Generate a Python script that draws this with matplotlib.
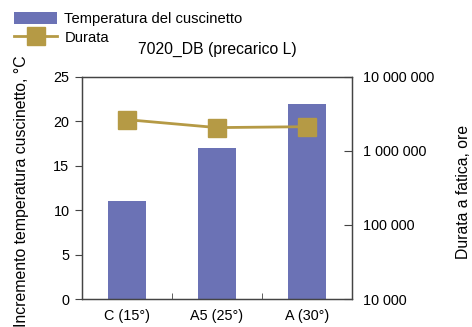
import matplotlib.pyplot as plt
import matplotlib.ticker as mticker
import numpy as np

plt.rcParams['font.family'] = ['Liberation Sans', 'DejaVu Sans']
plt.rcParams['font.size'] = 10.4

### DATA ###

categories = ["C (15°)", "A5 (25°)", "A (30°)"]
temperature = [11, 17, 22]
durata = [2.65e6, 2.07e6, 2.13e6]
right_ticks = [1e4, 1e5, 1e6, 1e7]

BAR_COLOR = "#6b72b5"
LINE_COLOR = "#b59a45"
SPINE_COLOR = "#444444"

### PLOT ###

fig = plt.figure(figsize=(4.72, 3.27), dpi=100)
ax = fig.add_axes([0.1737, 0.0856, 0.572, 0.679])
ax2 = ax.twinx()

x = np.arange(len(categories))
bars = ax.bar(x, temperature, width=0.43, color=BAR_COLOR, zorder=2,
              label="Temperatura del cuscinetto")
line, = ax2.plot(x, durata, color=LINE_COLOR, lw=2, marker="s", markersize=13.5,
                 label="Durata", zorder=3)

ax.set_xlim(-0.5, 2.5)
ax.set_ylim(0, 25)
ax.set_yticks([0, 5, 10, 15, 20, 25])
ax.set_xticks(x, categories)
ax.set_xticks([0.5, 1.5], minor=True)
ax.tick_params(axis="x", which="major", length=0, pad=7)
ax.tick_params(axis="x", which="minor", direction="in", length=4, color=SPINE_COLOR)
ax.tick_params(axis="y", direction="out", length=5, color=SPINE_COLOR, pad=4)

ax2.set_yscale("log")
ax2.set_ylim(1e4, 1e7)
ax2.set_yticks(right_ticks)
ax2.yaxis.set_major_formatter(mticker.FuncFormatter(lambda v, p: f"{int(round(v)):,}".replace(",", " ")))
ax2.yaxis.set_minor_locator(mticker.NullLocator())
ax2.tick_params(axis="y", direction="in", length=6, color=SPINE_COLOR, pad=8)

for a in (ax, ax2):
    for s in a.spines.values():
        s.set_color(SPINE_COLOR)
        s.set_linewidth(0.9)

ax.set_ylabel("Incremento temperatura cuscinetto, °C", fontsize=11.4)
ax.yaxis.set_label_coords(-0.197, 0.485)
ax2.set_ylabel("Durata a fatica, ore", fontsize=11.3)
ax2.yaxis.set_label_coords(1.385, 0.48)

ax.set_title("7020_DB (precarico L)", fontsize=11.3, pad=16.5)

fig.legend(handles=[bars, line], loc="upper left", bbox_to_anchor=(0.015, 0.985),
           frameon=False, handlelength=2.9, handleheight=0.9, borderpad=0,
           labelspacing=0.3, handletextpad=0.5, fontsize=10.6)

fig.savefig("out.png", dpi=100)
